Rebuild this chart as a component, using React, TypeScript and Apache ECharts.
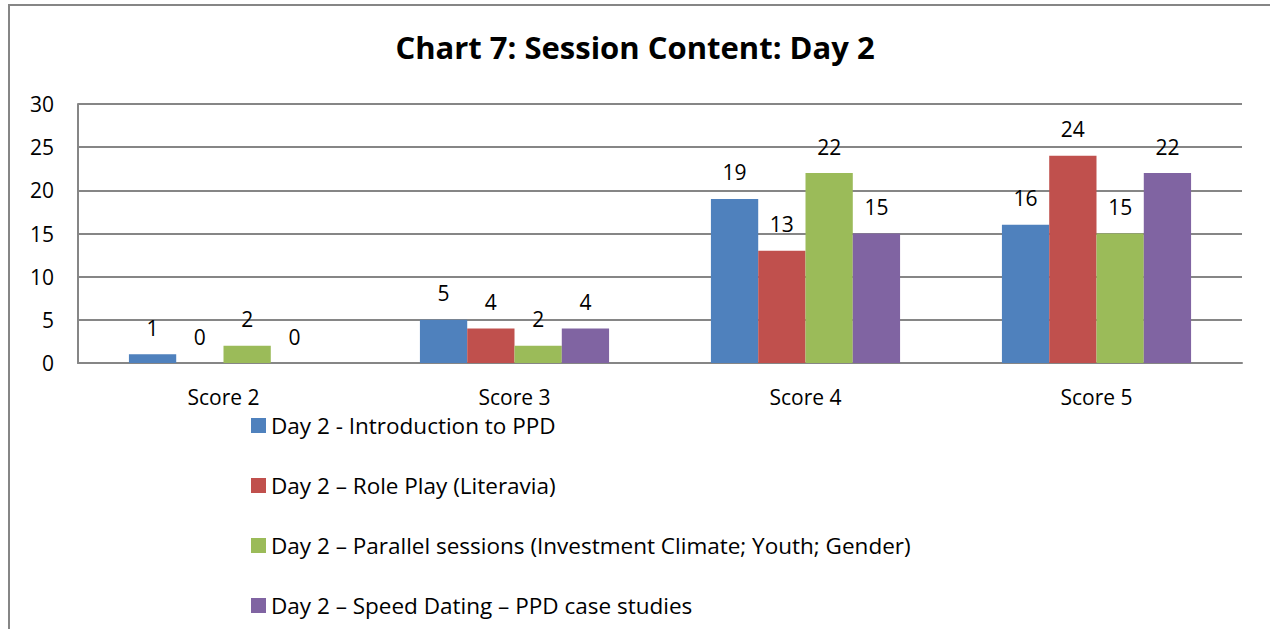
import React, { useEffect, useRef } from "react";
import * as echarts from "echarts";

const categories = ["Score 2", "Score 3", "Score 4", "Score 5"];
const seriesNames = [
  "Day 2 - Introduction to PPD",
  "Day 2 – Role Play (Literavia)",
  "Day 2 – Parallel sessions (Investment Climate; Youth; Gender)",
  "Day 2 – Speed Dating – PPD case studies",
];
const introValues = [1, 5, 19, 16];
const rolePlayValues = [0, 4, 13, 24];
const parallelValues = [2, 2, 22, 15];
const speedDatingValues = [0, 4, 15, 22];
const colors = ["#4F81BD", "#C0504D", "#9BBB59", "#8064A2"];
const yTicks = { min: 0, max: 30, interval: 5 };
const titleText = "Chart 7: Session Content: Day 2";

const FONT = "'Open Sans', sans-serif";

export default function App() {
  const ref = useRef<HTMLDivElement>(null);
  useEffect(() => {
    if (!ref.current) return;
    const chart = echarts.init(ref.current, null, { renderer: "svg" });
    const allValues = [introValues, rolePlayValues, parallelValues, speedDatingValues];
    chart.setOption({
      animation: false,
      textStyle: { fontFamily: FONT, color: "#000" },
      title: {
        text: titleText,
        left: "center",
        top: 26,
        textStyle: { fontSize: 31, fontWeight: "bold", color: "#000", fontFamily: FONT },
      },
      graphic: [
        {
          type: "rect",
          shape: { x: 9, y: 5, width: 1300, height: 700 },
          style: { fill: "none", stroke: "#868686", lineWidth: 2 },
          silent: true,
        },
      ],
      legend: {
        orient: "vertical",
        left: 246,
        top: 409,
        itemWidth: 15,
        itemHeight: 15,
        itemGap: 37,
        icon: "rect",
        textStyle: { fontSize: 22.5, color: "#000", fontFamily: FONT, padding: [0, 0, 0, 0] },
        data: seriesNames,
      },
      grid: { left: 78, right: 28, top: 104, bottom: 266, containLabel: false },
      xAxis: {
        type: "category",
        data: categories,
        axisLine: { show: true, lineStyle: { color: "#868686", width: 2 } },
        axisTick: { show: false },
        axisLabel: { fontSize: 21, color: "#000", margin: 23, fontFamily: FONT },
      },
      yAxis: {
        type: "value",
        min: yTicks.min,
        max: yTicks.max,
        interval: yTicks.interval,
        axisLine: { show: true, lineStyle: { color: "#868686", width: 2 } },
        axisTick: { show: false },
        splitLine: { show: true, lineStyle: { color: "#868686", width: 2 } },
        axisLabel: { fontSize: 21, color: "#000", margin: 24, fontFamily: FONT },
      },
      series: allValues.map((vals, i) => ({
        name: seriesNames[i],
        type: "bar",
        data: vals,
        barGap: "0%",
        barCategoryGap: "35%",
        itemStyle: { color: colors[i] },
        label: {
          show: true,
          position: "top",
          distance: 16,
          fontSize: 21,
          color: "#000",
          fontFamily: FONT,
        },
      })),
    });
    return () => chart.dispose();
  }, []);
  return (
    <div
      ref={ref}
      style={{ position: "fixed", left: 0, top: 0, width: 1270, height: 629, background: "#fff" }}
    />
  );
}
